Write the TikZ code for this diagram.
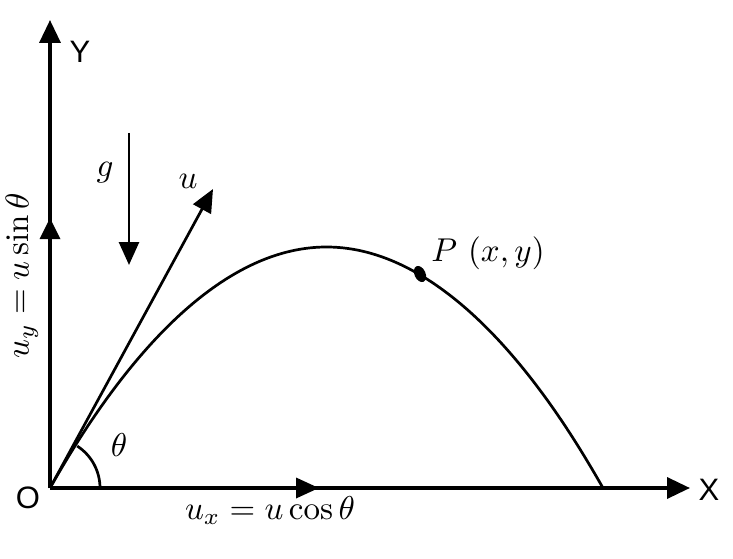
\documentclass[tikz,border=0pt]{standalone}
\usepackage{fontspec}
\setsansfont{Liberation Sans}
\usetikzlibrary{arrows.meta,shapes.geometric}
\begin{document}
\begin{tikzpicture}[x=1pt,y=1pt,
  axis/.style={line width=3.5pt,-{Triangle[length=23pt,width=21pt]}},
  vec/.style={line width=2.7pt,-{Triangle[length=23pt,width=20pt]}},
  curve/.style={line width=2.7pt},
  axlabel/.style={font=\sffamily\fontsize{31}{36}\selectfont,inner sep=0pt},
  mlabel/.style={font=\normalsize,inner sep=0pt,scale=3.3}]
\useasboundingbox (0,0) rectangle (733,558);
\coordinate (O) at (50,70);
\coordinate (Ytip) at (50,538);
\coordinate (Xtip) at (690,70);
\coordinate (uytip) at (50,340);
\coordinate (uxtip) at (319,70);
\coordinate (utip) at (213,369);
\coordinate (gs) at (129,425);
\coordinate (gt) at (129,293);
\coordinate (land) at (603,70);
\coordinate (top) at (326.5,311);
% trajectory
\draw[curve] (O) parabola bend (top) (land);
% axes
\draw[axis] (O) -- (Ytip);
\draw[axis] (O) -- (Xtip);
\draw[axis,-{Triangle[length=21pt,width=20pt]}] (O) -- (uytip);
\draw[axis,-{Triangle[length=23pt,width=20pt]}] (O) -- (uxtip);
% vectors
\draw[vec] (O) -- (utip);
\draw[vec] (gs) -- (gt);
% angle
\draw[curve] ([xshift=50pt]O) arc[start angle=0,end angle=57,radius=50pt];
% point P
\node[fill=black,ellipse,minimum width=11pt,minimum height=17pt,inner sep=0pt,rotate=25] (P) at (420,284) {};
% labels
\node[axlabel] (Ylab) at (80,506) {Y};
\node[axlabel] (Xlab) at (709,68) {X};
\node[axlabel] (Olab) at (28,60) {O};
\node[mlabel] (ulab) at (188,377) {$u$};
\node[mlabel] (glab) at (105,385) {$g$};
\node[mlabel] (thlab) at (119,113) {$\theta$};
\node[mlabel] (uxlab) at (270,47) {$u_x = u\cos\theta$};
\node[mlabel] (Plab) at (488,305) {$P\ (x,y)$};
\node[mlabel,rotate=90] (uylab) at (22,282) {$u_y = u\sin\theta$};
\end{tikzpicture}
\end{document}
